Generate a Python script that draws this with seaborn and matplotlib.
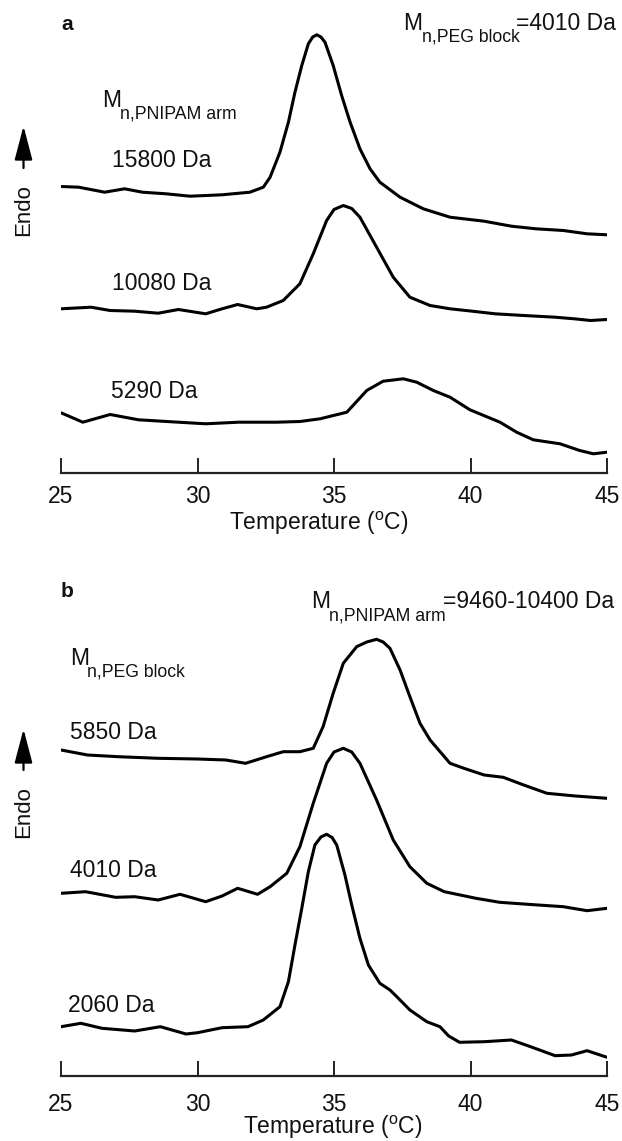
import numpy as np
import pandas as pd
import matplotlib
matplotlib.use('Agg')
import matplotlib.pyplot as plt
import seaborn as sns

# ---------------------------------------------------------
# DATA (heat flow in arbitrary units, offset stacked)
# ---------------------------------------------------------
# panel a: Mn,PEG block = 4010 Da, varying PNIPAM arm length
t_15800 = [25, 25.65, 26.6, 27.33, 27.98, 28.85, 29.73, 30.9, 31.92, 32.41, 32.66, 33.02, 33.33,
           33.57, 33.82, 34.06, 34.22, 34.37, 34.52, 34.67, 34.97, 35.28, 35.59, 35.95, 36.32,
           36.68, 37.42, 38.27, 39.25, 40.5, 41.5, 42.4, 43.4, 44.27, 45]
h_15800 = [286, 285.3, 280.3, 283.7, 280.3, 278.7, 276.3, 277.7, 280.3, 285.3, 295.3, 320.3, 350.3,
           380.3, 407, 428.7, 435.5, 437.7, 435.5, 430.3, 407, 377, 350.3, 323.7, 303.7,
           290.3, 275.3, 263.7, 255.3, 251.3, 246.3, 243.7, 242, 238.7, 237.7]

t_10080 = [25, 26.1, 26.8, 27.7, 28.56, 29.3, 30.3, 30.9, 31.47, 32.17, 32.53, 33.14, 33.75, 34.24,
           34.73, 35.0, 35.34, 35.65, 35.95, 36.56, 37.17, 37.78, 38.52, 39.25, 40.0, 40.9, 41.95,
           43.1, 43.8, 44.4, 45]
h_10080 = [163.7, 165.3, 162, 161.3, 159.3, 163, 158.7, 163.7, 168, 163.7, 165.3, 172, 188.7, 218.7,
           252, 263, 267, 264, 255.3, 225.3, 195.3, 175.3, 167, 163.7, 161.5, 158.7, 157,
           155.3, 153.7, 152, 153]

t_5290 = [25, 25.8, 26.8, 27.84, 29.3, 30.3, 31.5, 32.9, 33.75, 34.49, 35.47, 36.2, 36.8, 37.54,
          38.03, 38.64, 39.25, 39.98, 41.08, 41.69, 42.3, 43.28, 44.0, 44.5, 45]
h_5290 = [59.7, 50.3, 58, 52.7, 50.3, 48.7, 50.3, 50.3, 51, 53.7, 60.3, 82, 91.3, 93.7,
          90.3, 82, 75.3, 62.7, 50.3, 40.3, 32.7, 28.7, 22, 18.7, 20.3]

# panel b: Mn,PNIPAM arm = 9460-10400 Da, varying PEG block length
t_5850 = [25, 25.97, 27.1, 28.56, 30.0, 31.04, 31.76, 32.53, 33.14, 33.75, 34.24, 34.6, 34.97,
          35.34, 35.83, 36.2, 36.56, 36.8, 37.05, 37.42, 37.78, 38.15, 38.52, 39.25, 39.76, 40.5,
          41.2, 41.95, 42.8, 43.84, 45]
h_5850 = [326, 321, 319.3, 317.7, 317, 316, 312.7, 319.3, 324.3, 324.3, 327.7, 349.3, 382.7,
          412.7, 429.3, 434, 436.7, 434, 427.7, 406, 379.3, 352.7, 336, 312.7, 307.7, 301,
          298.7, 291, 282.7, 280, 277.7]

t_4010 = [25, 25.9, 27.0, 27.7, 28.56, 29.36, 30.3, 30.9, 31.47, 32.2, 32.66, 33.27, 33.75, 34.24,
          34.73, 35.0, 35.34, 35.65, 35.95, 36.56, 37.17, 37.78, 38.4, 39.04, 40.2, 41.07, 42.1,
          43.4, 44.27, 45]
h_4010 = [182.7, 184.3, 178.7, 179.3, 176, 181.7, 174.3, 180, 187.7, 181.7, 189.3, 202.7, 229.3, 272.7,
          312.7, 324, 327.7, 324, 312.7, 276, 236, 209.3, 192.7, 184.3, 177.7, 173.7, 171.7,
          169.3, 165.3, 167.7]

t_2060 = [25, 25.73, 26.5, 27.7, 28.64, 29.58, 30.0, 30.9, 31.85, 32.41, 33.02, 33.33, 33.57, 33.82,
          34.06, 34.3, 34.52, 34.73, 34.93, 35.1, 35.4, 35.65, 35.95, 36.26, 36.68, 37.05, 37.3,
          37.78, 38.4, 38.88, 39.2, 39.6, 40.5, 41.5, 42.2, 43.1, 43.7, 44.27, 45]
h_2060 = [49.3, 52.7, 47.7, 45, 49.3, 42, 43.3, 48.3, 49.3, 56, 69.3, 94.3, 131, 167.7,
          204.3, 231, 239, 241.7, 238.5, 231, 201, 171, 137.7, 111, 92.7, 86, 79.3,
          66, 54.3, 49.3, 40, 33.7, 34.3, 36, 29.3, 20.3, 21, 25.3, 18.7]

x_ticks = [25, 30, 35, 40, 45]

# ---------------------------------------------------------
# STYLE
# ---------------------------------------------------------
sns.set_style('white')
plt.rcParams['font.family'] = ['Liberation Sans', 'DejaVu Sans']
plt.rcParams['mathtext.fontset'] = 'custom'
plt.rcParams['mathtext.rm'] = 'Liberation Sans'
plt.rcParams['mathtext.default'] = 'regular'

W, H = 622, 1141
ink = '#111111'
fs = 16.5
fs_sub = 12.7


def fp(x, y):
    """pixel position (from top-left) -> figure fraction"""
    return x / W, 1 - y / H


def frame(temps, vals, name):
    return pd.DataFrame({'T': temps, 'signal': vals, 'sample': name})


fig = plt.figure(figsize=(W / 100, H / 100), dpi=100)
ax_a = fig.add_axes([61 / W, 1 - 472.5 / H, 546 / W, 462 / H])
ax_b = fig.add_axes([61 / W, 1 - 1076 / H, 546 / W, 490 / H])

df_a = pd.concat([frame(t_15800, h_15800, '15800 Da'),
                  frame(t_10080, h_10080, '10080 Da'),
                  frame(t_5290, h_5290, '5290 Da')])
df_b = pd.concat([frame(t_5850, h_5850, '5850 Da'),
                  frame(t_4010, h_4010, '4010 Da'),
                  frame(t_2060, h_2060, '2060 Da')])

for ax, df, top, pad in [(ax_a, df_a, 462, 9), (ax_b, df_b, 490, 12)]:
    sns.lineplot(data=df, x='T', y='signal', units='sample', estimator=None,
                 color='black', lw=2.2, ax=ax, legend=False,
                 solid_joinstyle='round', solid_capstyle='round')
    ax.set_xlim(25, 45)
    ax.set_ylim(0, top)
    ax.set_xticks(x_ticks)
    ax.set_yticks([])
    ax.set_xlabel('')
    ax.set_ylabel('')
    for s in ['top', 'right', 'left']:
        ax.spines[s].set_visible(False)
    ax.spines['bottom'].set_linewidth(1.6)
    ax.spines['bottom'].set_color('#222222')
    ax.tick_params(axis='x', bottom=True, direction='in', length=11, width=1.4, pad=pad,
                   labelsize=fs, colors='#222222', labelcolor=ink)
    ax.patch.set_alpha(0)


def txt(x, y, s, size=fs, **kw):
    fig.text(*fp(x, y), s, fontsize=size, color=ink, ha='left', va='baseline', **kw)


# panel a annotations
txt(61, 29.5, 'a', size=15, fontweight='bold')
txt(403, 30, 'M')
txt(422, 41.7, 'n,PEG block', size=fs_sub)
txt(516, 30, '=4010 Da')
txt(102, 106.7, 'M')
txt(120.5, 118.3, 'n,PNIPAM arm', size=fs_sub)
txt(111.6, 166.7, '15800 Da')
txt(111.6, 290, '10080 Da')
txt(111, 397.7, '5290 Da')
fig.text(*fp(319, 530), r'Temperature ($^{\mathrm{o}}$C)', fontsize=fs, color=ink,
         ha='center', va='baseline')

# panel b annotations
txt(61, 596.7, 'b', size=15, fontweight='bold')
txt(311, 608.3, 'M')
txt(329, 620, 'n,PNIPAM arm', size=fs_sub)
txt(442.6, 608.3, '=9460-10400 Da')
txt(70, 665, 'M')
txt(87, 676.7, 'n,PEG block', size=fs_sub)
txt(70, 739, '5850 Da')
txt(70, 877.3, '4010 Da')
txt(68, 1012.3, '2060 Da')
fig.text(*fp(333, 1134), r'Temperature ($^{\mathrm{o}}$C)', fontsize=fs, color=ink,
         ha='center', va='baseline')

# "Endo" with upward arrow on both panels
for y_text, y_tip, y_tail in [(210, 126, 168), (812, 729, 770)]:
    fig.text(*fp(24, y_text), 'Endo', rotation=90, fontsize=16, color=ink,
             ha='center', va='center')
    ax_a.annotate('', xy=fp(23.5, y_tip), xytext=fp(23.5, y_tail), xycoords='figure fraction',
                  textcoords='figure fraction', annotation_clip=False,
                  arrowprops=dict(arrowstyle='-|>,head_length=2.1,head_width=0.55',
                                  color='black', lw=1.6, shrinkA=0, shrinkB=0))

fig.savefig('out.png', dpi=100, facecolor='white')
